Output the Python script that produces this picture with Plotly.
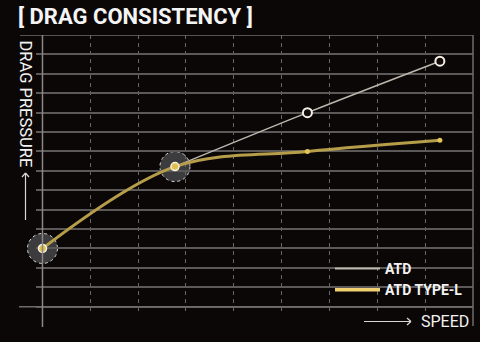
import plotly.graph_objects as go

# ---- data ----
speed = [0, 1, 2, 3]
atd = [3.0, 7.22, 10.0, 12.65]
atd_type_l = [3.0, 7.22, 8.0, 8.58]
shared_idx = [0, 1]          # points where both series coincide (highlighted)
series_names = ["ATD", "ATD TYPE-L"]
title_text = "[ DRAG CONSISTENCY ]"
y_label = "DRAG PRESSURE"
x_label = "SPEED"

BG = "#0c0707"
GRID = "#5c5a58"
VGRID = "#6a6866"
ATD_C = "#bcb8ae"
TL_C = "#b59d4a"
TL_LEG = "#f0d070"
FONT = "Roboto, sans-serif"

W, H = 480, 342
ML, MR, MT, MB = 36, 7, 35, 27
PW, PH = W - ML - MR, H - MT - MB
XR = [-0.049, 3.25]
YR = [-0.428, 14]

def px_x(p):  # pixel -> paper
    return (p - ML) / PW

def px_y(p):
    return (H - MB - p) / PH

def data_to_paper_x(v):
    return (v - XR[0]) / (XR[1] - XR[0])

fig = go.Figure()

# ATD beyond the shared part (the shared segment coincides with TYPE-L)
fig.add_trace(go.Scatter(
    x=speed[1:], y=atd[1:], mode="lines", line=dict(color=ATD_C, width=1.5, shape="spline", smoothing=1.0),
    showlegend=False, hoverinfo="skip"))
fig.add_trace(go.Scatter(
    x=speed[2:], y=atd[2:], mode="markers",
    marker=dict(size=9, color="#140c0a", line=dict(color="#f4f0e6", width=2)),
    showlegend=False))
# TYPE-L
fig.add_trace(go.Scatter(
    x=speed, y=atd_type_l, mode="lines", line=dict(color=TL_C, width=3, shape="spline", smoothing=1.0),
    showlegend=False, hoverinfo="skip"))
fig.add_trace(go.Scatter(
    x=speed[2:], y=atd_type_l[2:], mode="markers",
    marker=dict(size=5, color="#e2c458"),
    showlegend=False))
# shared highlighted points
fig.add_trace(go.Scatter(
    x=[speed[i] for i in shared_idx], y=[atd[i] for i in shared_idx], mode="markers",
    marker=dict(size=8, color="#e0c050", line=dict(color="#f6f2e6", width=1.5)),
    showlegend=False))

# legend entries
fig.add_trace(go.Scatter(x=[None], y=[None], mode="lines", name=series_names[0],
                         line=dict(color=ATD_C, width=2)))
fig.add_trace(go.Scatter(x=[None], y=[None], mode="lines", name=series_names[1],
                         line=dict(color=TL_LEG, width=3.5)))

shapes = []
# highlight circles
for i in shared_idx:
    shapes.append(dict(type="circle", layer="between", xref="paper", yref="y",
                       xsizemode="pixel", ysizemode="pixel",
                       xanchor=data_to_paper_x(speed[i]), yanchor=atd[i],
                       x0=-15, x1=15, y0=-15, y1=15,
                       fillcolor="#3c3b3d", line=dict(color="#d8d8d8", width=1, dash="dot")))
# frame lines
LINE = dict(color="#6e6c6a", width=1.5)
shapes.append(dict(type="line", xref="paper", yref="y", x0=px_x(19), x1=1, y0=0, y1=0, line=LINE))
shapes.append(dict(type="line", xref="paper", yref="y", x0=px_x(20), x1=1, y0=14, y1=14, line=LINE))
shapes.append(dict(type="line", xref="x", yref="paper", x0=0, x1=0, y0=px_y(327), y1=1, line=dict(color="#8a8886", width=1.5)))
shapes.append(dict(type="line", xref="paper", yref="paper", x0=1, x1=1, y0=px_y(326), y1=1, line=LINE))
# axis arrows
AR = dict(color="#d8d8d8", width=1.2)
ax_x, ax_top, ax_bot = 25.5, 173, 220
shapes.append(dict(type="line", xref="paper", yref="paper", x0=px_x(ax_x), x1=px_x(ax_x), y0=px_y(ax_bot), y1=px_y(ax_top), line=AR))
shapes.append(dict(type="line", xref="paper", yref="paper", x0=px_x(ax_x - 3.5), x1=px_x(ax_x), y0=px_y(ax_top + 4), y1=px_y(ax_top), line=AR))
shapes.append(dict(type="line", xref="paper", yref="paper", x0=px_x(ax_x + 3.5), x1=px_x(ax_x), y0=px_y(ax_top + 4), y1=px_y(ax_top), line=AR))
ay_y, ay_l, ay_r = 321.5, 364, 411
shapes.append(dict(type="line", xref="paper", yref="paper", x0=px_x(ay_l), x1=px_x(ay_r), y0=px_y(ay_y), y1=px_y(ay_y), line=AR))
shapes.append(dict(type="line", xref="paper", yref="paper", x0=px_x(ay_r - 4), x1=px_x(ay_r), y0=px_y(ay_y - 3.5), y1=px_y(ay_y), line=AR))
shapes.append(dict(type="line", xref="paper", yref="paper", x0=px_x(ay_r - 4), x1=px_x(ay_r), y0=px_y(ay_y + 3.5), y1=px_y(ay_y), line=AR))

annotations = [
    dict(text=y_label, textangle=90, xref="paper", yref="paper", x=px_x(25), y=px_y(103.5),
         xanchor="center", yanchor="middle", showarrow=False,
         font=dict(family=FONT, size=16.5, color="#f2f2f2")),
    dict(text=x_label, xref="paper", yref="paper", x=px_x(419), y=px_y(321.5),
         xanchor="left", yanchor="middle", showarrow=False,
         font=dict(family=FONT, size=16, color="#f2f2f2")),
]

fig.update_layout(
    width=W, height=H,
    margin=dict(l=ML, r=MR, t=MT, b=MB, pad=0),
    paper_bgcolor=BG, plot_bgcolor=BG,
    title=dict(text=title_text, x=18 / W, xanchor="left", y=1 - 16.5 / H, yanchor="middle",
               font=dict(family=FONT, size=22, color="#f4f4f4", weight="bold")),
    xaxis=dict(range=XR, tick0=0, dtick=XR[1] / 9, showticklabels=False, ticks="",
               showgrid=True, gridcolor=VGRID, gridwidth=1, griddash="4px,4px",
               zeroline=False, showline=False, fixedrange=True),
    yaxis=dict(range=YR, tick0=0, dtick=1, showticklabels=False, ticks="",
               showgrid=True, gridcolor=GRID, gridwidth=1.5,
               zeroline=False, showline=False, fixedrange=True),
    legend=dict(x=px_x(330), y=px_y(253), xanchor="left", yanchor="top",
                bgcolor="rgba(0,0,0,0)", itemwidth=45, tracegroupgap=0,
                font=dict(family=FONT, size=14, color="#f2f2f2", weight="bold")),
    shapes=shapes,
    annotations=annotations,
    showlegend=True,
)

fig.write_html("out.html")
